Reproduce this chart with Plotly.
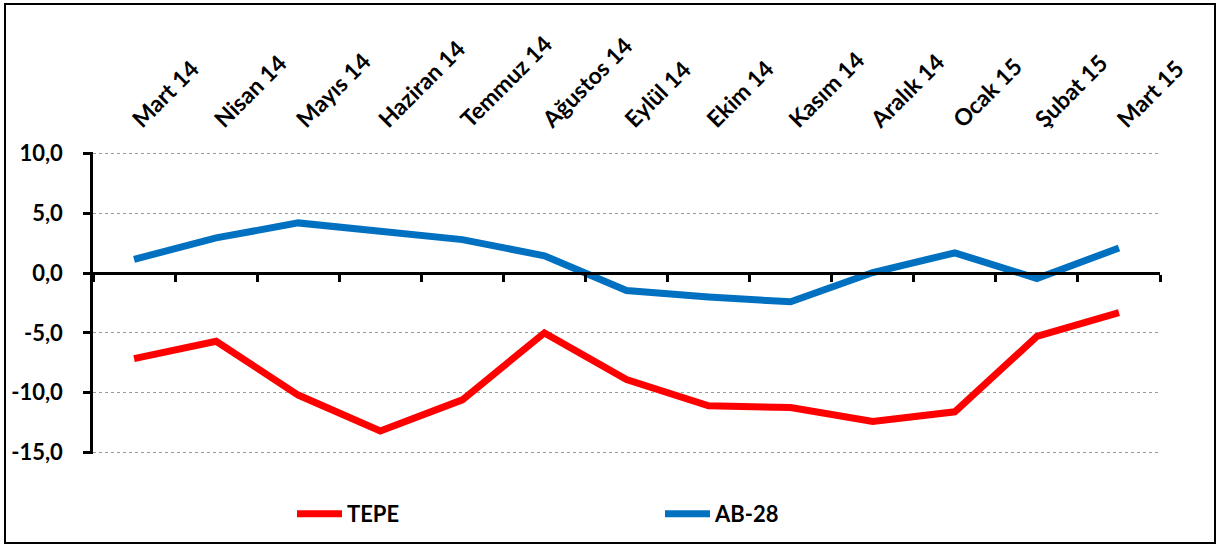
import plotly.graph_objects as go

months = ["Mart 14", "Nisan 14", "Mayıs 14", "Haziran 14", "Temmuz 14", "Ağustos 14",
          "Eylül 14", "Ekim 14", "Kasım 14", "Aralık 14", "Ocak 15", "Şubat 15", "Mart 15"]
tepe = [-7.15, -5.7, -10.2, -13.2, -10.6, -5.0, -8.9, -11.1, -11.25, -12.4, -11.6, -5.3, -3.3]
ab28 = [1.15, 2.95, 4.2, 3.45, 2.8, 1.45, -1.45, -2.0, -2.4, 0.05, 1.7, -0.45, 2.1]
y_ticks = [10, 5, 0, -5, -10, -15]
y_tick_text = ["10,0", "5,0", "0,0", "-5,0", "-10,0", "-15,0"]
y_range = [-15.13, 10.13]

FONT = dict(family="Lato, 'Open Sans', sans-serif", size=22, color="black", weight="bold")
XFONT = dict(family="Lato, 'Open Sans', sans-serif", size=23, color="black", weight="bold")

fig = go.Figure()
fig.add_trace(go.Scatter(x=months, y=tepe, name="TEPE", mode="lines",
                         line=dict(color="#FF0000", width=7), xaxis="x", yaxis="y",
                         hoverinfo="skip"))
fig.add_trace(go.Scatter(x=months, y=ab28, name="AB-28", mode="lines",
                         line=dict(color="#0070C0", width=7), xaxis="x2", yaxis="y",
                         hoverinfo="skip"))

zero_pos = (0 - y_range[0]) / (y_range[1] - y_range[0])

W, H = 1220, 547
ml, mr, mt, mb = 93, 60, 152, 93
pw, ph = W - ml - mr, H - mt - mb

fig.update_layout(
    width=W, height=H,
    margin=dict(l=ml, r=mr, t=mt, b=mb),
    paper_bgcolor="white", plot_bgcolor="white",
    font=FONT,
    showlegend=True,
    legend=dict(orientation="h", x=(292 - ml) / pw, xanchor="left",
                y=-(514 - (H - mb)) / ph, yanchor="middle",
                entrywidth=308, entrywidthmode="pixels", itemwidth=45,
                font=FONT, bgcolor="rgba(0,0,0,0)"),
    xaxis=dict(type="category", range=[-0.5, 12.5], categoryarray=months,
               anchor="free", position=zero_pos,
               showline=True, linecolor="black", linewidth=3,
               ticks="outside", ticklen=7, tickwidth=2.5, tickcolor="black",
               tickson="boundaries", showticklabels=False, showgrid=False,
               zeroline=False),
    xaxis2=dict(type="category", range=[-0.5, 12.5], categoryarray=months,
                overlaying="x", side="top", anchor="y",
                showline=False, ticks="", showgrid=False, zeroline=False,
                tickangle=-45, tickfont=XFONT, ticklabelstandoff=14),
    yaxis=dict(range=y_range, tickvals=y_ticks, ticktext=y_tick_text,
               showline=True, linecolor="black", linewidth=2.5,
               ticks="outside", ticklen=7, tickwidth=2.5, tickcolor="black",
               showgrid=True, gridcolor="#9a9a9a", griddash="dot", gridwidth=1,
               zeroline=False, tickfont=FONT, ticklabelstandoff=16),
)

# outer chart border
fig.add_shape(type="rect", xref="paper", yref="paper",
              x0=(5 - ml) / pw, x1=(1215 - ml) / pw,
              y0=-(543 - (H - mb)) / ph, y1=(H - mb - 4) / ph,
              line=dict(color="black", width=2), fillcolor="rgba(0,0,0,0)", layer="below")

fig.write_html("out.html", config={"displayModeBar": False},
               post_script="document.body.style.margin='0';document.body.style.overflow='hidden';")
